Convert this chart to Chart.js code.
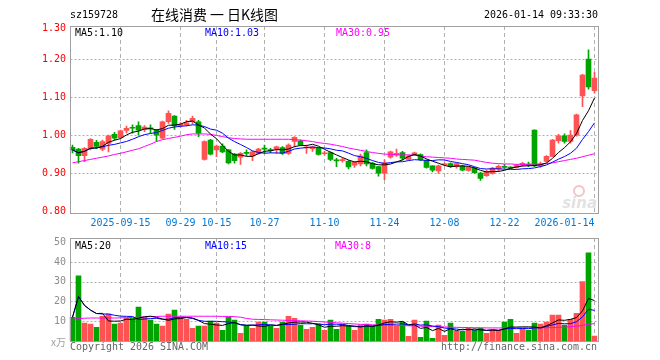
<!DOCTYPE html>
<html>
<head>
<meta charset="utf-8">
<script src="https://cdn.jsdelivr.net/npm/chart.js@4.4.1/dist/chart.umd.min.js"></script>
<style>
  html, body { margin: 0; padding: 0; background: #fff; }
  #wrap { position: relative; width: 660px; height: 360px; }
  canvas { position: absolute; left: 0; }
  #k { top: 0; }
  #v { top: 230px; }
</style>
</head>
<body>
<div id="wrap">
  <canvas id="k" width="660" height="230"></canvas>
  <canvas id="v" width="660" height="130"></canvas>
</div>
<script>
// trading days shown
const dates = [
  "2025-09-03","2025-09-04","2025-09-05","2025-09-08","2025-09-09","2025-09-10","2025-09-11","2025-09-12","2025-09-15","2025-09-16",
  "2025-09-17","2025-09-18","2025-09-19","2025-09-22","2025-09-23","2025-09-24","2025-09-25","2025-09-26","2025-09-29","2025-09-30",
  "2025-10-09","2025-10-10","2025-10-13","2025-10-14","2025-10-15","2025-10-16","2025-10-17","2025-10-20","2025-10-21","2025-10-22",
  "2025-10-23","2025-10-24","2025-10-27","2025-10-28","2025-10-29","2025-10-30","2025-10-31","2025-11-03","2025-11-04","2025-11-05",
  "2025-11-06","2025-11-07","2025-11-10","2025-11-11","2025-11-12","2025-11-13","2025-11-14","2025-11-17","2025-11-18","2025-11-19",
  "2025-11-20","2025-11-21","2025-11-24","2025-11-25","2025-11-26","2025-11-27","2025-11-28","2025-12-01","2025-12-02","2025-12-03",
  "2025-12-04","2025-12-05","2025-12-08","2025-12-09","2025-12-10","2025-12-11","2025-12-12","2025-12-15","2025-12-16","2025-12-17",
  "2025-12-18","2025-12-19","2025-12-22","2025-12-23","2025-12-24","2025-12-25","2025-12-26","2025-12-29","2025-12-30","2025-12-31",
  "2026-01-05","2026-01-06","2026-01-07","2026-01-08","2026-01-09","2026-01-12","2026-01-13","2026-01-14"
];

const open = [
  0.969,0.964,0.947,0.966,0.982,0.964,0.979,1.003,0.994,1.013,
  1.021,1.026,1.016,1.020,1.014,0.993,1.036,1.051,1.026,1.028,
  1.036,1.036,0.937,0.988,0.962,0.972,0.962,0.951,0.943,0.955,
  0.946,0.953,0.966,0.962,0.964,0.968,0.953,0.984,0.986,0.967,
  0.965,0.966,0.952,0.955,0.936,0.934,0.932,0.922,0.925,0.955,
  0.927,0.918,0.901,0.943,0.949,0.955,0.937,0.949,0.950,0.934,
  0.920,0.907,0.923,0.926,0.918,0.920,0.908,0.914,0.901,0.894,
  0.900,0.912,0.918,0.916,0.916,0.921,0.924,1.014,0.920,0.932,
  0.945,0.986,0.999,0.984,1.001,1.104,1.201,1.118
];
const high = [
  0.975,0.966,0.968,0.992,0.987,0.988,1.001,1.008,1.014,1.025,
  1.028,1.036,1.026,1.028,1.016,1.038,1.065,1.052,1.034,1.040,
  1.051,1.040,0.986,0.990,0.975,0.978,0.963,0.953,0.955,0.962,
  0.959,0.966,0.975,0.966,0.972,0.971,0.978,0.997,0.988,0.975,
  0.972,0.968,0.958,0.957,0.940,0.940,0.934,0.931,0.951,0.962,
  0.929,0.919,0.936,0.959,0.964,0.958,0.948,0.956,0.952,0.936,
  0.921,0.922,0.928,0.928,0.928,0.922,0.919,0.916,0.903,0.909,
  0.916,0.922,0.924,0.918,0.924,0.929,0.930,1.015,0.930,0.947,
  0.990,1.003,1.004,1.013,1.056,1.161,1.225,1.166
];
const low = [
  0.954,0.927,0.931,0.962,0.965,0.960,0.957,0.988,0.992,1.007,
  1.006,1.001,1.010,1.006,0.984,0.991,1.032,1.016,1.022,1.025,
  1.030,0.997,0.935,0.949,0.944,0.955,0.925,0.927,0.924,0.947,
  0.934,0.951,0.953,0.955,0.953,0.950,0.950,0.970,0.973,0.953,
  0.958,0.948,0.948,0.934,0.918,0.930,0.912,0.916,0.920,0.920,
  0.911,0.893,0.884,0.940,0.945,0.935,0.935,0.947,0.934,0.914,
  0.904,0.900,0.921,0.916,0.914,0.907,0.906,0.900,0.882,0.892,
  0.898,0.905,0.914,0.912,0.914,0.919,0.918,0.918,0.916,0.930,
  0.944,0.980,0.980,0.980,0.998,1.076,1.122,1.111
];
const close = [
  0.962,0.947,0.966,0.990,0.971,0.984,0.999,0.993,1.012,1.019,
  1.019,1.014,1.022,1.017,1.001,1.036,1.058,1.025,1.029,1.033,
  1.045,1.006,0.984,0.951,0.972,0.957,0.928,0.934,0.953,0.953,
  0.957,0.964,0.964,0.960,0.970,0.953,0.975,0.995,0.975,0.969,
  0.970,0.950,0.954,0.937,0.933,0.936,0.917,0.929,0.946,0.925,
  0.913,0.901,0.928,0.957,0.953,0.940,0.946,0.954,0.936,0.916,
  0.909,0.920,0.925,0.918,0.926,0.909,0.917,0.902,0.887,0.905,
  0.914,0.919,0.916,0.914,0.922,0.927,0.922,0.920,0.924,0.945,
  0.988,0.999,0.984,1.001,1.054,1.159,1.128,1.151
];
// volume, 万手
const volume = [
  12.0,32.9,9.0,8.5,6.9,12.5,13.6,8.5,9.0,11.5,
  11.5,17.1,12.0,10.5,8.5,7.5,13.6,15.6,11.5,11.0,
  6.4,7.5,7.5,10.0,9.0,5.4,12.0,10.5,3.9,7.5,
  6.4,9.5,9.5,7.5,6.4,9.5,12.5,11.5,8.0,5.9,
  6.9,8.5,5.4,10.5,5.9,8.5,7.5,5.4,8.0,8.5,
  7.5,11.0,10.5,11.0,7.5,9.5,2.4,10.5,1.9,10.0,
  1.4,8.0,2.9,9.0,4.9,4.9,6.4,5.4,6.4,3.9,
  5.4,5.4,9.5,11.0,3.9,5.9,5.4,9.0,8.5,9.5,
  13.1,13.1,8.0,11.0,14.0,30.0,44.5,2.5
];
// MA30 lines (they need history before the first day)
const ma30 = [
  0.928,0.931,0.934,0.937,0.940,0.943,0.946,0.950,0.953,0.957,
  0.961,0.965,0.971,0.977,0.984,0.989,0.992,0.995,0.998,1.002,
  1.004,1.004,1.004,1.003,1.000,0.997,0.994,0.992,0.991,0.990,
  0.990,0.990,0.990,0.990,0.990,0.990,0.990,0.989,0.988,0.986,
  0.984,0.981,0.979,0.977,0.974,0.971,0.967,0.964,0.961,0.958,
  0.955,0.953,0.951,0.950,0.949,0.949,0.949,0.948,0.946,0.944,
  0.943,0.942,0.941,0.940,0.938,0.937,0.936,0.935,0.932,0.929,
  0.927,0.926,0.925,0.925,0.924,0.924,0.924,0.925,0.925,0.926,
  0.928,0.931,0.934,0.937,0.940,0.944,0.948,0.952
];
const volMa30 = [
  11.0,11.3,11.5,11.6,11.6,11.6,11.6,11.6,11.7,11.8,
  11.9,12.0,12.2,12.3,12.4,12.5,12.5,12.5,12.5,12.5,
  12.5,12.5,12.5,12.5,12.5,12.4,12.4,12.3,12.0,11.4,
  11.0,10.9,10.8,10.7,10.6,10.5,10.4,10.3,10.2,10.1,
  10.0,9.8,9.6,9.4,9.2,9.0,8.8,8.6,8.4,8.3,
  8.2,8.1,8.0,8.0,7.9,7.8,7.7,7.6,7.5,7.4,
  7.3,7.2,7.1,7.0,6.9,6.8,6.8,6.7,6.7,6.6,
  6.6,6.6,6.6,6.6,6.6,6.6,6.6,6.6,6.7,6.7,
  6.8,6.9,7.0,7.2,7.5,7.9,8.4,8.8
];

const tickDates = ["2025-09-15","2025-09-29","2025-10-15","2025-10-27","2025-11-10","2025-11-24","2025-12-08","2025-12-22","2026-01-14"];
const tickTexts = ["2025-09-15","09-29","10-15","10-27","11-10","11-24","12-08","12-22","2026-01-14"];
const priceTicks = [0.80, 0.90, 1.00, 1.10, 1.20, 1.30];
const volTicks = [10, 20, 30, 40, 50];

const RED = "#ff5252";
const GREEN = "#00a400";
const GRID = "#b0b0b0";
const BORDER = "#a0a0a0";
const MONO = '"DejaVu Sans Mono", "Liberation Mono", monospace';

function movingAvg(src, n) {
  return src.map((_, i) => {
    const part = src.slice(Math.max(0, i - n + 1), i + 1);
    return part.reduce((a, b) => a + b, 0) / part.length;
  });
}

const ma5 = movingAvg(close, 5);
const ma10 = movingAvg(close, 10);
const volMa5 = movingAvg(volume, 5);
const volMa10 = movingAvg(volume, 10);
const barColor = open.map((o, i) => close[i] >= o ? RED : GREEN);
const last = a => a[a.length - 1];

// text in the sina bitmap-like look: 6px per character
function txt(ctx, s, x, y, color, align) {
  ctx.font = "11px " + MONO;
  ctx.fillStyle = color;
  ctx.textAlign = align || "left";
  ctx.textBaseline = "middle";
  ctx.fillText(s, x, y, s.length * 6);
}

function line(ctx, x1, y1, x2, y2) {
  ctx.beginPath();
  ctx.moveTo(x1, y1);
  ctx.lineTo(x2, y2);
  ctx.stroke();
}

function drawGrid(chart, hTicks) {
  const { ctx, chartArea: a, scales } = chart;
  ctx.save();
  ctx.strokeStyle = GRID;
  ctx.lineWidth = 1;
  ctx.setLineDash([4, 3]);
  tickDates.forEach(d => {
    const x = Math.floor(scales.x.getPixelForValue(dates.indexOf(d))) + 0.5;
    line(ctx, x, a.top, x, a.bottom);
  });
  ctx.setLineDash([2, 2]);
  hTicks.forEach(v => {
    const y = Math.round(scales.y.getPixelForValue(v)) + 0.5;
    line(ctx, a.left + 1, y, a.right + 1, y);
  });
  ctx.restore();
}

function drawBox(chart) {
  const { ctx, chartArea: a } = chart;
  ctx.save();
  ctx.strokeStyle = BORDER;
  ctx.lineWidth = 1;
  ctx.strokeRect(Math.round(a.left) + 0.5, Math.round(a.top) + 0.5,
    Math.round(a.right - a.left), Math.round(a.bottom - a.top));
  ctx.restore();
}

const kPlugin = {
  id: "kDecor",
  beforeDatasetsDraw(chart) {
    drawGrid(chart, priceTicks.filter(v => v > 0.85 && v < 1.25));
  },
  afterDraw(chart) {
    const { ctx, chartArea: a, scales } = chart;
    drawBox(chart);

    priceTicks.forEach(v => {
      const py = scales.y.getPixelForValue(v);
      const y = Math.min(Math.max(py, a.top + 2), a.bottom);
      txt(ctx, v.toFixed(2), 66, y, "#ff0000", "right");
    });

    tickDates.forEach((d, k) => {
      const x = scales.x.getPixelForValue(dates.indexOf(d));
      const half = tickTexts[k].length * 3;
      const cx = Math.min(x, a.right - half - 3);
      txt(ctx, tickTexts[k], cx, 223, "#0078d7", "center");
    });

    txt(ctx, "sz159728", 70, 15, "#000");
    txt(ctx, "2026-01-14 09:33:30", 598, 15, "#000", "right");
    ctx.font = '14px "Noto Sans CJK SC", sans-serif';
    ctx.fillStyle = "#000";
    ctx.textAlign = "left";
    ctx.textBaseline = "middle";
    ctx.fillText("在线消费 一 日K线图", 151, 15, 127);

    txt(ctx, "MA5:" + last(ma5).toFixed(2), 75, 33, "#000");
    txt(ctx, "MA10:" + last(ma10).toFixed(2), 205, 33, "#0000ff");
    txt(ctx, "MA30:" + last(ma30).toFixed(2), 336, 33, "#ff00ff");

    // faint sina mark
    ctx.save();
    ctx.strokeStyle = "#f3c4c4";
    ctx.lineWidth = 2;
    ctx.beginPath();
    ctx.arc(579, 191, 5, 0, Math.PI * 2);
    ctx.stroke();
    ctx.font = 'italic bold 15px "DejaVu Sans", sans-serif';
    ctx.fillStyle = "#e2e2e2";
    ctx.textAlign = "right";
    ctx.textBaseline = "middle";
    ctx.fillText("sina", 597, 204);
    ctx.restore();
  }
};

const vPlugin = {
  id: "vDecor",
  beforeDatasetsDraw(chart) {
    drawGrid(chart, volTicks.filter(v => v < 45));
  },
  afterDraw(chart) {
    const { ctx, chartArea: a, scales } = chart;
    drawBox(chart);
    volTicks.forEach(v => {
      const y = Math.max(scales.y.getPixelForValue(v), a.top + 4);
      txt(ctx, String(v), 66, y, "#8c8c8c", "right");
    });
    ctx.font = '10px "Noto Sans CJK SC", sans-serif';
    ctx.fillStyle = "#a0a0a0";
    ctx.textAlign = "right";
    ctx.textBaseline = "middle";
    ctx.fillText("x万", 66, a.bottom + 1);

    txt(ctx, "MA5:" + Math.floor(last(volMa5)), 75, 16, "#000");
    txt(ctx, "MA10:" + Math.floor(last(volMa10)), 205, 16, "#0000ff");
    txt(ctx, "MA30:" + Math.floor(last(volMa30)), 335, 16, "#ff00ff");

    txt(ctx, "Copyright 2026 SINA.COM", 70, 117, "#666");
    txt(ctx, "http://finance.sina.com.cn", 597, 117, "#666", "right");
  }
};

function maLine(data, color) {
  return { type: "line", data, borderColor: color, borderWidth: 1, pointRadius: 0, tension: 0, order: 0 };
}

const baseOptions = (yMin, yMax, bottomPad) => ({
  responsive: false,
  animation: false,
  devicePixelRatio: 1,
  layout: { padding: { left: 69.5, right: 62.5, top: 0, bottom: bottomPad } },
  plugins: { legend: { display: false }, tooltip: { enabled: false } },
  scales: {
    x: { type: "category", offset: true, display: false },
    y: { min: yMin, max: yMax, display: false }
  }
});

const kOptions = baseOptions(0.796, 1.288, 17);
kOptions.layout.padding.top = 26;
new Chart(document.getElementById("k"), {
  type: "bar",
  data: {
    labels: dates,
    datasets: [
      maLine(ma5, "#000000"),
      maLine(ma10, "#0000ff"),
      maLine(ma30, "#ff00ff"),
      {
        data: open.map((o, i) => [o, close[i]]),
        backgroundColor: barColor,
        barThickness: 5,
        minBarLength: 1,
        grouped: false,
        order: 1
      },
      {
        data: low.map((l, i) => [l, high[i]]),
        backgroundColor: barColor,
        barThickness: 1,
        grouped: false,
        order: 2
      }
    ]
  },
  options: kOptions,
  plugins: [kPlugin]
});

const vOptions = baseOptions(0, 52, 19);
vOptions.layout.padding.top = 8;
new Chart(document.getElementById("v"), {
  type: "bar",
  data: {
    labels: dates,
    datasets: [
      maLine(volMa5, "#000000"),
      maLine(volMa10, "#0000ff"),
      maLine(volMa30, "#ff00ff"),
      {
        data: volume,
        backgroundColor: barColor,
        barThickness: 5,
        grouped: false,
        order: 1
      }
    ]
  },
  options: vOptions,
  plugins: [vPlugin]
});
</script>
</body>
</html>
